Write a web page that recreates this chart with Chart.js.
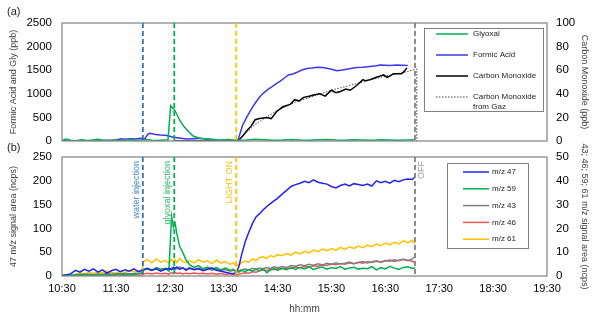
<!DOCTYPE html>
<html>
<head>
<meta charset="utf-8">
<script src="https://cdn.jsdelivr.net/npm/chart.js@4.4.1/dist/chart.umd.min.js"></script>
<style>
  html, body { margin: 0; padding: 0; background: #fff; }
  #wrap { position: relative; width: 598px; height: 316px; overflow: hidden; }
  #wrap canvas { position: absolute; left: 0; top: 0; }
  .panel { position: absolute; left: 7px; font: 11px "Liberation Sans", Arial, sans-serif; color: #222; }
</style>
</head>
<body>
<div id="wrap">
  <canvas id="chartA" width="598" height="316"></canvas>
  <canvas id="chartB" width="598" height="316"></canvas>
  <div class="panel" style="top:5px">(a)</div>
  <div class="panel" style="top:141px">(b)</div>
</div>
<script>
const FONT = '"Liberation Sans", Arial, sans-serif';
Chart.defaults.font.family = FONT;
Chart.defaults.color = '#000';

// x values are minutes after 10:30
const xTickLabels = ['10:30', '11:30', '12:30', '13:30', '14:30', '15:30', '16:30', '17:30', '18:30', '19:30'];

// events (vertical dashed lines)
const eventTimes = [90, 125, 194, 393];
const eventLabels = ['water injection', 'glyoxal injection', 'LIGHT ON', 'OFF'];
const eventColors = ['#2E75B6', '#00B050', '#FFC000', '#808080'];
const eventTextColors = ['#4A89C8', '#2DB865', '#FFC000', '#9A9A9A'];

// (a) glyoxal, ppb
const glyoxalT = [0, 4, 10, 16, 22, 28, 34, 40, 46, 52, 58, 64, 70, 76, 82, 88, 94, 100, 106, 112,
  118, 121, 126, 131, 136, 141, 146, 154, 165, 175, 185, 195, 205, 215, 225, 235, 245, 255, 265, 275,
  285, 295, 305, 315, 325, 335, 345, 355, 365, 375, 385, 393];
const glyoxalPpb = [10, 40, 15, 5, 25, 10, 20, 35, 15, 5, 20, 10, 15, 25, 10, 20, 30, 15, 10, 20,
  20, 750, 640, 440, 300, 195, 105, 55, 40, 20, 30, 15, 20, 35, 25, 15, 20, 30, 20, 15,
  25, 30, 20, 15, 25, 20, 15, 25, 20, 15, 20, 25];

// (a) formic acid, ppb
const formicT = [0, 10, 20, 30, 40, 50, 60, 66, 70, 76, 82, 87, 92, 96, 98, 104, 110, 117, 124, 132,
  139, 147, 154, 160, 165, 170, 176, 182, 187, 194, 196, 201, 206, 211, 215, 220, 224, 229, 234, 239,
  243, 248, 252, 257, 261, 267, 274, 279, 284, 290, 295, 300, 306, 312, 317, 323, 328, 335, 343, 350,
  354, 360, 365, 373, 378, 385];
const formicPpb = [5, 0, 10, 0, 5, 15, 20, 45, 35, 50, 40, 57, 42, 150, 163, 140, 125, 115, 80, 60,
  42, 50, 57, 40, 21, 10, 0, -10, -5, 0, 20, 330, 517, 680, 800, 930, 1010, 1090, 1150, 1220,
  1270, 1340, 1400, 1420, 1450, 1505, 1540, 1545, 1560, 1555, 1540, 1520, 1490, 1505, 1520, 1540, 1555, 1565, 1580, 1595,
  1610, 1605, 1600, 1610, 1605, 1600];

// (a) carbon monoxide, ppb (right axis)
const coT = [125, 140, 155, 170, 185, 196, 201, 206, 211, 215, 220, 228, 233, 239, 246, 254, 259, 264, 269, 275,
  280, 287, 293, 300, 305, 310, 316, 321, 328, 335, 338, 343, 350, 354, 358, 362, 365, 369, 373, 378,
  381, 384];
const coPpb = [0, 0, 0, 0, 0, 0, 4, 9, 13, 18, 19, 20, 19, 25, 29, 31, 35, 34, 37, 38,
  39, 40, 38, 43, 41, 42, 44, 43, 47, 52, 51, 52, 54, 55, 56, 54, 55, 57, 57, 57,
  59, 62];

// (a) carbon monoxide from gaz, ppb (right axis)
const gazT = [196, 205, 215, 225, 240, 260, 280, 300, 320, 340, 360, 380, 395, 395];
const gazPpb = [0, 7, 14, 19, 26, 33, 38, 43, 47, 51, 55, 58, 61, 0];

// (b) shared time grid
const tB = [0, 5, 10, 15, 20, 25, 30, 35, 40, 45, 50, 55, 60, 65, 70, 75, 80, 85, 89, 91,
  95, 100, 105, 110, 115, 119, 122, 124, 126, 128, 131, 135, 138, 142,
  147, 152, 157, 162, 167, 172, 177, 182, 187, 191,
  194, 197, 200, 204, 208, 212, 216, 220, 224, 228, 232, 236, 240,
  245, 250, 255, 260, 265, 270, 275, 280, 285, 290, 295, 300, 305, 310, 315, 320, 325, 330, 335, 340,
  345, 350, 355, 360, 365, 370, 375, 380, 385, 390, 393];

// m/z 47 (left axis, ncps)
const mz47 = [0, 2, 5, 12, 8, 14, 10, 15, 8, 13, 6, 11, 14, 9, 13, 10, 15, 9, 12, 14,
  16, 12, 15, 10, 14, 16, 13, 18, 15, 19, 14, 17, 12, 16,
  13, 15, 11, 14, 17, 12, 10, 8, 6, 5,
  8, 20, 45, 72, 92, 110, 124, 131, 139, 146, 152, 158, 163,
  172, 180, 188, 192, 195, 199, 196, 202, 197, 195, 193, 188, 185, 190, 193, 189, 194, 192, 190, 193,
  189, 200, 196, 199, 195, 201, 198, 202, 204, 203, 208];
// m/z 59, 43, 46, 61 (right axis, ncps)
const mz59 = [0.3, 0.5, 0.2, 0.6, 0.4, 0.8, 0.5, 0.3, 0.7, 0.5, 0.9, 0.4, 0.6, 1.0, 0.5, 0.8, 0.6, 1.0, 1.2, 2.5,
  3.0, 2.2, 3.5, 2.8, 3.2, 2.0, 25.0, 20.5, 22.0, 17.5, 12.5, 9.5, 6.8, 4.8,
  3.6, 4.4, 3.1, 3.8, 2.9, 3.5, 2.6, 3.3, 2.4, 2.8,
  2.0, 1.6, 2.4, 1.8, 2.7, 2.0, 2.9, 2.2, 3.0, 1.4, 2.6, 3.1, 2.3,
  3.2, 2.6, 3.5, 2.8, 3.6, 3.0, 3.9, 2.7, 3.4, 3.8, 2.9, 3.6, 3.2, 4.0, 2.8, 3.4, 3.7, 2.9, 3.3, 3.1,
  3.9, 2.6, 3.5, 3.0, 4.1, 3.3, 2.8, 3.6, 3.9, 3.2, 3.5];
const mz43 = [0.2, 0.4, 0.3, 0.5, 0.6, 0.4, 0.7, 0.5, 0.8, 0.6, 0.9, 0.7, 1.0, 0.8, 1.1, 0.9, 1.0, 1.2, 1.3, 2.6,
  3.0, 2.4, 3.3, 2.7, 3.1, 2.6, 3.4, 2.8, 3.6, 3.0, 3.8, 3.2, 2.9, 3.5,
  2.8, 3.3, 2.6, 3.1, 2.4, 2.9, 2.2, 2.7, 2.0, 2.4,
  1.8, 2.2, 2.6, 2.9, 2.5, 3.2, 2.8, 3.4, 3.1, 3.6, 3.2, 3.9, 3.5,
  4.0, 3.6, 4.4, 4.1, 4.7, 4.3, 4.9, 4.5, 5.1, 4.6, 5.3, 4.9, 5.6, 5.0, 5.4, 5.9, 5.2, 5.7, 6.1, 5.5,
  6.0, 6.4, 5.8, 6.3, 6.7, 6.1, 6.6, 7.0, 6.4, 7.2, 8.1];
const mz46 = [0.0, 0.1, 0.2, 0.1, 0.3, 0.2, 0.1, 0.3, 0.2, 0.4, 0.2, 0.3, 0.5, 0.3, 0.4, 0.2, 0.5, 0.3, 0.4, 0.9,
  1.2, 0.8, 1.3, 0.9, 1.1, 0.8, 1.4, 1.0, 1.5, 1.1, 1.3, 0.9, 1.2, 1.0,
  1.3, 0.9, 1.2, 0.8, 1.1, 0.7, 1.0, 0.6, 0.9, 0.5,
  0.4, 0.8, 1.1, 1.4, 1.2, 1.8, 1.6, 2.2, 2.5, 2.3, 2.8, 2.6, 3.1,
  3.0, 3.4, 3.2, 3.8, 3.5, 4.0, 3.7, 4.3, 4.1, 4.6, 4.4, 5.0, 4.7, 5.2, 4.9, 5.5, 5.2, 5.8, 5.4, 6.0,
  5.7, 6.2, 5.9, 6.5, 6.2, 6.8, 6.4, 7.0, 6.6, 6.2, 5.8];
const mz61 = [0.0, 0.3, 0.2, 0.6, 1.2, 0.8, 1.6, 1.0, 1.9, 1.3, 2.2, 1.5, 1.1, 2.0, 1.4, 2.4, 1.7, 2.2, 2.0, 6.2,
  6.8, 5.5, 7.2, 5.8, 6.6, 5.4, 7.0, 5.9, 6.8, 5.6, 7.4, 6.0, 5.7, 6.5,
  5.5, 6.9, 5.8, 6.4, 5.2, 6.7, 5.4, 6.1, 4.9, 5.6,
  4.2, 4.8, 5.6, 6.3, 5.8, 7.2, 6.6, 7.8, 8.1, 7.4, 8.6, 8.0, 9.0,
  8.5, 9.4, 8.8, 10.0, 9.3, 10.4, 9.7, 10.9, 10.2, 11.3, 10.6, 11.5, 10.8, 12.0, 11.2, 12.3, 11.6, 12.6, 11.9, 13.0,
  12.3, 13.4, 12.7, 13.8, 13.1, 14.2, 13.5, 14.8, 14.0, 15.0, 13.4];

function pts(ts, vs) { return ts.map((t, i) => ({ x: t, y: vs[i] })); }

// frame, event lines and in-plot legend
const decor = {
  id: 'decor',
  afterDatasetsDraw(chart, args, opts) {
    const { ctx, chartArea: a, scales } = chart;
    ctx.save();
    ctx.strokeStyle = '#8a8a8a';
    ctx.lineWidth = 1.3;
    ctx.strokeRect(a.left, a.top, a.right - a.left, a.bottom - a.top);

    eventTimes.forEach((t, i) => {
      const x = scales.x.getPixelForValue(t);
      ctx.setLineDash([5, 3]);
      ctx.lineWidth = 1.8;
      ctx.strokeStyle = eventColors[i];
      ctx.beginPath();
      ctx.moveTo(x, a.top);
      ctx.lineTo(x, a.bottom);
      ctx.stroke();
      ctx.setLineDash([]);
      if (opts.labels) {
        const after = i === eventTimes.length - 1;
        ctx.save();
        ctx.translate(after ? x + 2 : x - 2, a.top + 4);
        ctx.rotate(-Math.PI / 2);
        ctx.textAlign = 'right';
        ctx.textBaseline = after ? 'top' : 'bottom';
        ctx.fillStyle = eventTextColors[i];
        ctx.font = '9px ' + FONT;
        ctx.fillText(eventLabels[i], 0, 0);
        ctx.restore();
      }
    });

    const L = opts.legend;
    const bx = a.right - L.fromRight, by = a.top + L.fromTop;
    ctx.fillStyle = '#fff';
    ctx.fillRect(bx, by, L.w, L.h);
    ctx.strokeStyle = '#808080';
    ctx.lineWidth = 1;
    ctx.strokeRect(bx + 0.5, by + 0.5, L.w, L.h);
    ctx.font = '8px ' + FONT;
    ctx.textAlign = 'left';
    ctx.textBaseline = 'middle';
    chart.data.datasets.forEach((ds, i) => {
      const y = by + L.row0 + i * L.rowDy;
      ctx.strokeStyle = ds.borderColor;
      ctx.lineWidth = ds.borderDash ? 1 : 1.5;
      ctx.setLineDash(ds.borderDash || []);
      ctx.beginPath();
      ctx.moveTo(bx + L.line0, y);
      ctx.lineTo(bx + L.line1, y);
      ctx.stroke();
      ctx.setLineDash([]);
      ctx.fillStyle = '#222';
      ds.label.split('\n').forEach((s, k) => ctx.fillText(s, bx + L.text, y + k * 10));
    });
    ctx.restore();
  }
};

const yTitle = (text) => ({ display: true, text: text, color: '#404040', font: { size: 9 }, padding: { top: 8, bottom: 0 } });
const plain = (v) => String(v);
const noGrid = { display: false, drawTicks: false };

new Chart(document.getElementById('chartA'), {
  type: 'line',
  data: {
    datasets: [
      { label: 'Glyoxal', data: pts(glyoxalT, glyoxalPpb), borderColor: '#00B050', yAxisID: 'y' },
      { label: 'Formic Acid', data: pts(formicT, formicPpb), borderColor: '#3A3AE6', yAxisID: 'y' },
      { label: 'Carbon Monoxide', data: pts(coT, coPpb), borderColor: '#000000', yAxisID: 'y1' },
      { label: 'Carbon Monoxide\nfrom Gaz', data: pts(gazT, gazPpb), borderColor: '#444444', borderWidth: 1, borderDash: [1.5, 1.5], yAxisID: 'y1' }
    ]
  },
  options: {
    responsive: false,
    animation: false,
    devicePixelRatio: 1,
    layout: { padding: { top: 23, bottom: 175, left: 0, right: 0 } },
    elements: { point: { radius: 0 }, line: { borderWidth: 1.5, tension: 0 } },
    plugins: {
      legend: { display: false },
      tooltip: { enabled: false },
      decor: { labels: false, legend: { fromRight: 123, fromTop: 5, w: 119, h: 83, row0: 6, rowDy: 21, line0: 12, line1: 44, text: 49 } }
    },
    scales: {
      x: { type: 'linear', display: false, min: 0, max: 540 },
      y: {
        position: 'left', min: 0, max: 2500,
        ticks: { stepSize: 500, padding: 10, font: { size: 11.5 }, callback: plain },
        grid: noGrid, border: { display: false },
        title: yTitle('Formic Acid and Gly (ppb)'),
        afterFit: (s) => { s.width = 62; }
      },
      y1: {
        position: 'right', min: 0, max: 100,
        ticks: { stepSize: 20, padding: 9, font: { size: 11.5 }, callback: plain },
        grid: noGrid, border: { display: false },
        title: yTitle('Carbon Monoxide (ppb)'),
        afterFit: (s) => { s.width = 51; }
      }
    }
  },
  plugins: [decor]
});

new Chart(document.getElementById('chartB'), {
  type: 'line',
  data: {
    datasets: [
      { label: 'm/z 47', data: pts(tB, mz47), borderColor: '#2323EE', yAxisID: 'y' },
      { label: 'm/z 59', data: pts(tB, mz59), borderColor: '#00B050', yAxisID: 'y1' },
      { label: 'm/z 43', data: pts(tB, mz43), borderColor: '#808080', yAxisID: 'y1' },
      { label: 'm/z 46', data: pts(tB, mz46), borderColor: '#F05454', yAxisID: 'y1' },
      { label: 'm/z 61', data: pts(tB, mz61), borderColor: '#FFC000', yAxisID: 'y1' }
    ]
  },
  options: {
    responsive: false,
    animation: false,
    devicePixelRatio: 1,
    layout: { padding: { top: 157, bottom: 0, left: 0, right: 0 } },
    elements: { point: { radius: 0 }, line: { borderWidth: 1.5, tension: 0 } },
    plugins: {
      legend: { display: false },
      tooltip: { enabled: false },
      decor: { labels: true, legend: { fromRight: 100, fromTop: 6, w: 81, h: 85, row0: 9, rowDy: 16.8, line0: 16, line1: 42, text: 45 } }
    },
    scales: {
      x: {
        type: 'linear', min: 0, max: 540,
        grid: noGrid, border: { display: false },
        ticks: { stepSize: 60, autoSkip: false, maxRotation: 0, padding: 6, font: { size: 11 },
          callback: (v) => xTickLabels[Math.round(v / 60)] },
        title: { display: true, text: 'hh:mm', color: '#404040', font: { size: 10 }, padding: { top: 0, bottom: 1 } },
        afterFit: (s) => { s.height = 40; }
      },
      y: {
        position: 'left', min: 0, max: 250,
        ticks: { stepSize: 50, padding: 10, font: { size: 11.5 }, callback: plain },
        grid: noGrid, border: { display: false },
        title: yTitle('47 m/z signal area (ncps)'),
        afterFit: (s) => { s.width = 62; }
      },
      y1: {
        position: 'right', min: 0, max: 50,
        ticks: { stepSize: 10, padding: 9, font: { size: 11.5 }, callback: plain },
        grid: noGrid, border: { display: false },
        title: yTitle('43; 46; 59; 61 m/z signal area (ncps)'),
        afterFit: (s) => { s.width = 51; }
      }
    }
  },
  plugins: [decor]
});
</script>
</body>
</html>
